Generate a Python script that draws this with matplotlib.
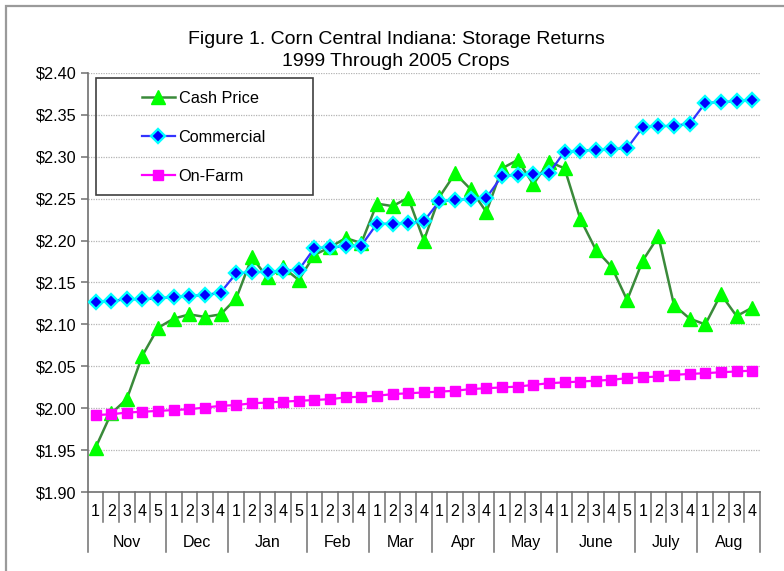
import matplotlib
matplotlib.use("Agg")
import matplotlib.pyplot as plt
from matplotlib.patches import Rectangle
import matplotlib.transforms as mtransforms

plt.rcParams["font.family"] = ["Liberation Sans", "DejaVu Sans"]

# weekly storage returns, $/bu
months = ["Nov", "Dec", "Jan", "Feb", "Mar", "Apr", "May", "June", "July", "Aug"]
weeks_per_month = [5, 4, 5, 4, 4, 4, 4, 5, 4, 4]
week_labels = [str(w + 1) for n in weeks_per_month for w in range(n)]

cash_price = [1.953, 1.994, 2.011, 2.063, 2.096,
              2.107, 2.112, 2.109, 2.112,
              2.131, 2.180, 2.156, 2.168, 2.153,
              2.183, 2.192, 2.203, 2.197,
              2.244, 2.241, 2.251, 2.200,
              2.252, 2.280, 2.261, 2.234,
              2.286, 2.296, 2.267, 2.294,
              2.286, 2.226, 2.189, 2.169, 2.129,
              2.176, 2.205, 2.123, 2.107,
              2.100, 2.136, 2.110, 2.120]
commercial = [2.127, 2.128, 2.130, 2.130, 2.131,
              2.133, 2.134, 2.135, 2.138,
              2.161, 2.162, 2.163, 2.164, 2.165,
              2.191, 2.192, 2.193, 2.194,
              2.220, 2.220, 2.221, 2.223,
              2.247, 2.248, 2.250, 2.251,
              2.277, 2.278, 2.279, 2.280,
              2.306, 2.307, 2.308, 2.309, 2.310,
              2.335, 2.336, 2.337, 2.339,
              2.364, 2.365, 2.366, 2.368]
on_farm = [1.992, 1.993, 1.995, 1.996, 1.997,
           1.998, 1.999, 2.001, 2.003,
           2.004, 2.006, 2.007, 2.008, 2.009,
           2.010, 2.011, 2.013, 2.014,
           2.015, 2.017, 2.018, 2.019,
           2.020, 2.021, 2.023, 2.024,
           2.025, 2.026, 2.028, 2.030,
           2.031, 2.032, 2.033, 2.034, 2.036,
           2.037, 2.038, 2.040, 2.041,
           2.042, 2.043, 2.044, 2.045]
y_ticks = [1.90, 1.95, 2.00, 2.05, 2.10, 2.15, 2.20, 2.25, 2.30, 2.35, 2.40]

W, H = 784, 571
fig = plt.figure(figsize=(W / 100, H / 100), dpi=100)
fig.patches.append(Rectangle((6 / W, -0.05), 1.1, 1 - 6 / H + 0.05, transform=fig.transFigure,
                             fill=False, edgecolor="#9a9a9a", lw=1.6))

ax = fig.add_axes([87.7 / W, 1 - 492.3 / H, (760 - 87.7) / W, (492.3 - 72.7) / H])
x = list(range(len(week_labels)))

ax.plot(x, cash_price, color="#3a8a3a", lw=1.8, marker="^", ms=10,
        mfc="#00ff00", mec="#00ff00", label="Cash Price", zorder=3)
ax.plot(x, commercial, color="#3333ff", lw=1.6, marker="D", ms=6.8, mew=1.7,
        mfc="#0000ff", mec="#00ffff", label="Commercial", zorder=4)
ax.plot(x, on_farm, color="#ff00ff", lw=1.6, marker="s", ms=7,
        mfc="#ff00ff", mec="#ff00ff", label="On-Farm", zorder=5)

ax.set_xlim(-0.5, len(x) - 0.5)
ax.set_ylim(1.90, 2.40)
ax.set_yticks(y_ticks)
ax.set_yticklabels(["$%.2f" % v for v in y_ticks], fontsize=11.7)
ax.set_xticks([])
ax.yaxis.grid(True, linestyle=(0, (1, 1)), color="#b4b4b4", lw=0.9)
ax.set_axisbelow(True)
for s in ("top", "right"):
    ax.spines[s].set_visible(False)
for s in ("left", "bottom"):
    ax.spines[s].set_color("#707070")
    ax.spines[s].set_linewidth(1.2)
ax.tick_params(axis="y", length=5, width=1.1, color="#707070", pad=3)

# two-level category axis: week numbers, then month names
trans = mtransforms.blended_transform_factory(ax.transData, ax.transAxes)
short_y, long_y = -30 / 419.6, -59.4 / 419.6
for i, lab in enumerate(week_labels):
    ax.text(i, -19 / 419.6, lab, transform=trans, ha="center", va="center", fontsize=11.5)
start = 0
for m, n in zip(months, weeks_per_month):
    for b in range(start + 1, start + n):
        ax.plot([b - 0.5, b - 0.5], [0, short_y], transform=trans, color="#707070",
                lw=1.1, clip_on=False)
    ax.plot([start - 0.5, start - 0.5], [0, long_y], transform=trans, color="#707070",
            lw=1.1, clip_on=False)
    ax.text(start + (n - 1) / 2, -50.4 / 419.6, m, transform=trans, ha="center",
            va="center", fontsize=11.5)
    start += n
ax.plot([start - 0.5, start - 0.5], [0, long_y], transform=trans, color="#707070",
        lw=1.1, clip_on=False)

# legend box
ax.add_patch(Rectangle(((96 - 87.7) / 672.3, (492.3 - 195) / 419.6), 217 / 672.3, 117 / 419.6,
                       transform=ax.transAxes, fill=False, edgecolor="#404040", lw=1.2, zorder=6))
ax.legend(loc="upper left", bbox_to_anchor=((142 - 87.7) / 672.3, (492.3 - 91) / 419.6),
          frameon=False, fontsize=11.7, handlelength=2.0, handletextpad=0.25,
          labelspacing=1.48, borderpad=0, borderaxespad=0, numpoints=1)

fig.text(396 / W, 1 - 39 / H, "Figure 1. Corn Central Indiana: Storage Returns",
         ha="center", va="center", fontsize=14)
fig.text(396 / W, 1 - 61 / H, "1999 Through 2005 Crops", ha="center", va="center", fontsize=14)

fig.savefig("out.png", dpi=100)
